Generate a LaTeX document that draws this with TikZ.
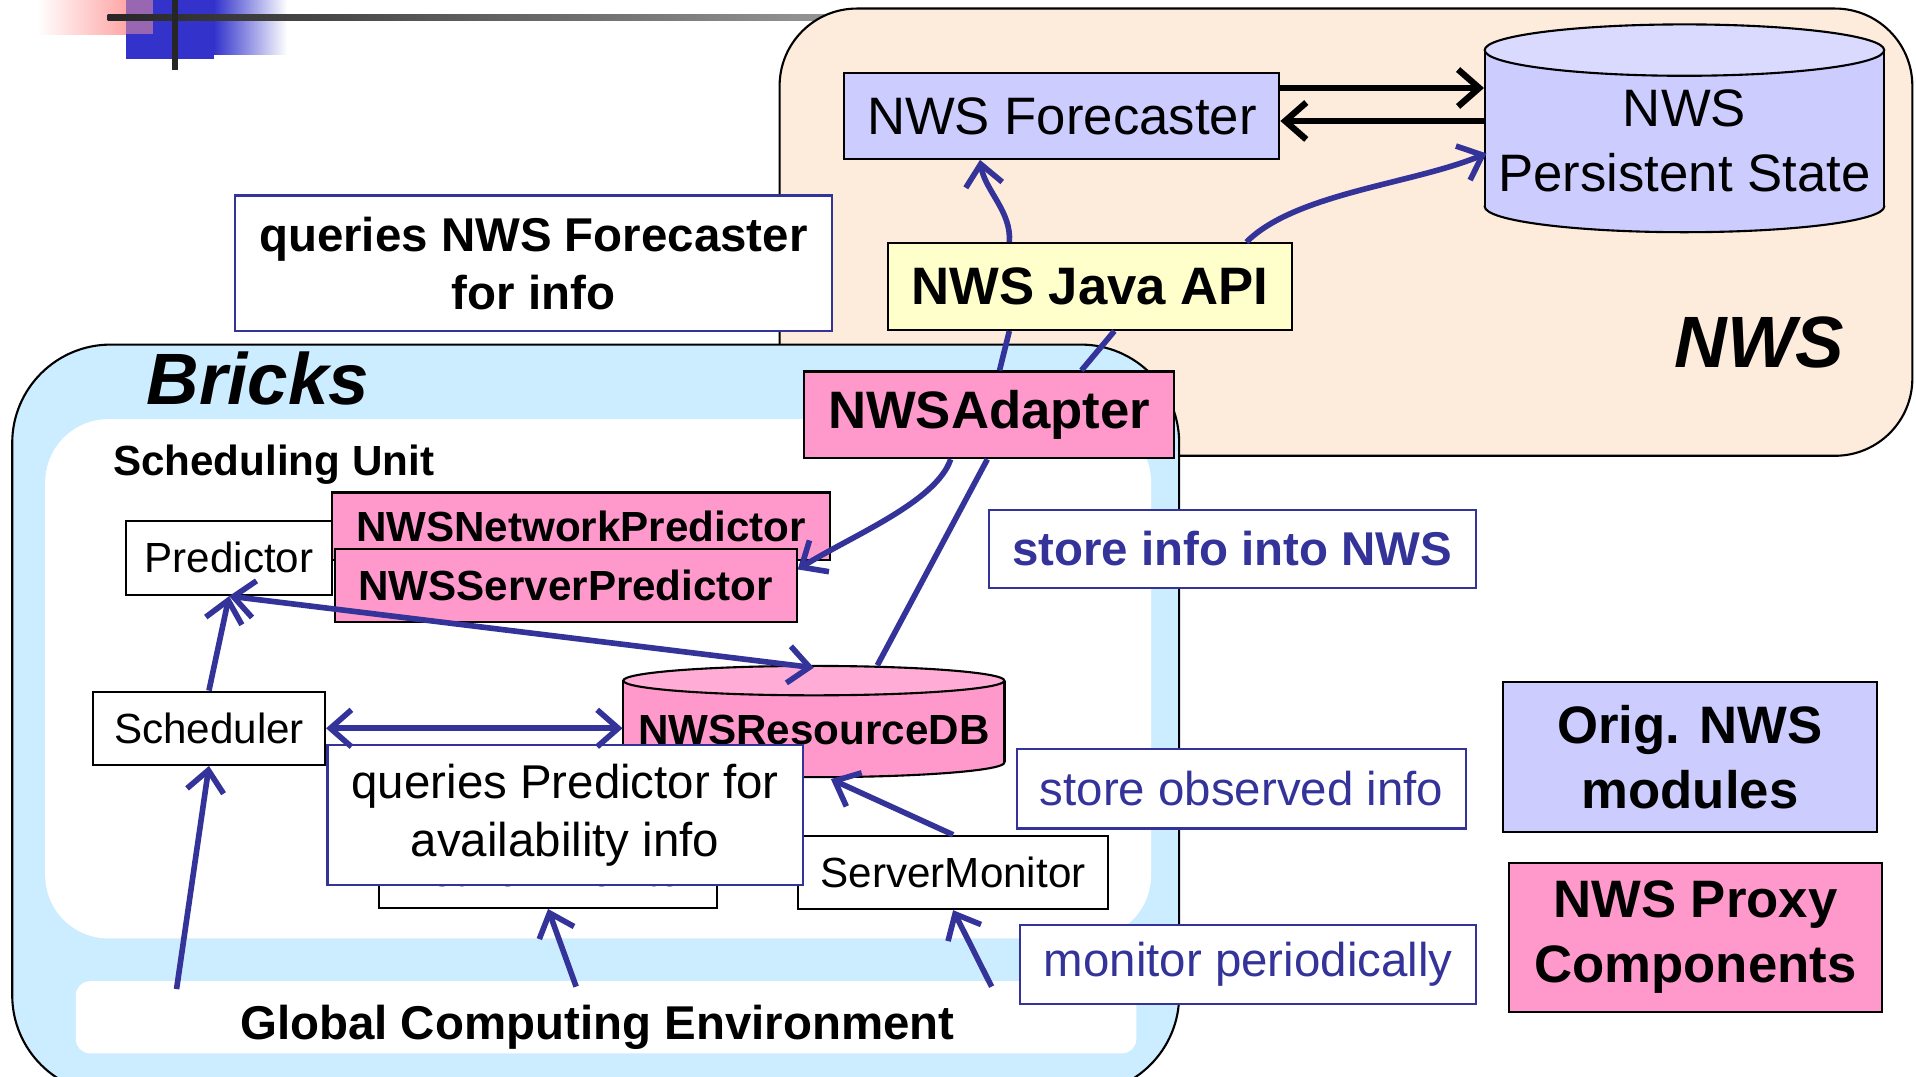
\documentclass[tikz,border=0pt]{standalone}
\usepackage{fontspec}
\setmainfont{Liberation Sans}
\usetikzlibrary{arrows.meta,calc}
\definecolor{nwsbg}{HTML}{FDEBDB}
\definecolor{bricksbg}{HTML}{CCECFF}
\definecolor{orig}{HTML}{CCCCFF}
\definecolor{origtop}{HTML}{DADAFF}
\definecolor{proxy}{HTML}{FF99CC}
\definecolor{proxytop}{HTML}{FFADD6}
\definecolor{javabg}{HTML}{FFFFCC}
\definecolor{arrowblue}{HTML}{333399}
\definecolor{decoblue}{HTML}{3333CC}
\newcommand{\smallfnt}{\fontsize{12}{14}\selectfont}
\newcommand{\midfnt}{\fontsize{13.5}{16.5}\selectfont}
\newcommand{\bigfnt}{\fontsize{15}{18.4}\selectfont}
\newcommand{\hugefnt}{\fontsize{20.7}{24}\selectfont}

\begin{document}
\begin{tikzpicture}[x=0.01222cm, y=-0.01222cm, >={Straight Barb[length=6pt,width=10.5pt]}]
\tikzstyle{box}=[draw, line width=0.6pt, fill=white, inner sep=0pt, font=\smallfnt]
\tikzstyle{proxybox}=[box, fill=proxy, font=\smallfnt\bfseries]
\tikzstyle{note}=[draw=arrowblue, line width=0.6pt, fill=white, inner sep=0pt, align=center, font=\midfnt]
\tikzstyle{flow}=[draw=arrowblue, line width=1.6pt]
\tikzstyle{blk}=[draw=black, line width=1.8pt]
\useasboundingbox (0,0) rectangle (1568,881);
\clip (0,0) rectangle (1568,881);

% slide decoration
\shade[left color=white, right color=red!45] (30,0) rectangle (125,28);
\fill[decoblue] (103,0) rectangle (175,48);
\shade[left color=decoblue, right color=white] (175,0) rectangle (235,45);
\fill[red!40, opacity=0.5] (103,0) rectangle (125,28);
\shade[left color=black!85, right color=black!40] (88,11.5) rectangle (700,17);
\fill[black!85] (141,0) rectangle (145.5,57);

% NWS region
\draw[fill=nwsbg, line width=0.6pt, rounded corners=22pt] (638,7) rectangle (1565,373);
\node[font=\hugefnt\bfseries\itshape] (nwslbl) at (1440,280) {NWS};

% Bricks region
\draw[fill=bricksbg, line width=0.6pt, rounded corners=28pt] (10,282) rectangle (965,895);
\fill[white, rounded corners=18pt] (37,343) rectangle (942,768);
\node[font=\hugefnt\bfseries\itshape] (brickslbl) at (211,310) {Bricks};
\node[font=\smallfnt\bfseries, anchor=west, inner sep=0pt] (sulbl) at (92,380) {Scheduling Unit};
\node[fill=white, rounded corners=4pt, minimum width=10.607cm, minimum height=0.721cm, text height=12.8pt, text depth=0pt, font=\midfnt\bfseries] (gce) at (496,832.5) {Global Computing Environment\hspace*{5pt}};

% original NWS modules
\node[box, fill=orig, font=\bigfnt, minimum width=4.350cm, minimum height=0.855cm] (fcst) at (869,95) {NWS Forecaster};
\draw[fill=orig, line width=0.6pt] (1378.5,169) ellipse [x radius=1.998cm, y radius=0.257cm];
\fill[orig] (1215,41) rectangle (1542,169);
\draw[line width=0.6pt] (1215,41) -- (1215,169) (1542,41) -- (1542,169);
\draw[fill=origtop, line width=0.6pt] (1378.5,41) ellipse [x radius=1.998cm, y radius=0.257cm];
\node[font=\bigfnt, align=center, minimum width=3.996cm, minimum height=1.821cm, inner sep=0pt] (ps) at (1378.5,115.5) {NWS\\Persistent State};
\node[box, fill=javabg, font=\bigfnt\bfseries, minimum width=4.033cm, minimum height=0.868cm] (java) at (892,234.5) {NWS Java API};

% scheduling unit
\node[box, minimum width=2.065cm, minimum height=0.745cm] (pred) at (187.5,456.5) {Predictor};
\node[proxybox, minimum width=4.974cm, minimum height=0.672cm] (netp) at (475.5,430.5) {NWSNetworkPredictor};
\node[proxybox, minimum width=4.619cm, minimum height=0.733cm] (srvp) at (463,479) {NWSServerPredictor};
\node[box, minimum width=2.322cm, minimum height=0.733cm] (sch) at (171,596) {Scheduler};
\draw[fill=proxy, line width=0.6pt] (666,624) ellipse [x radius=1.906cm, y radius=0.147cm];
\fill[proxy] (510,557) rectangle (822,624);
\draw[line width=0.6pt] (510,557) -- (510,624) (822,557) -- (822,624);
\draw[fill=proxytop, line width=0.6pt] (666,557) ellipse [x radius=1.906cm, y radius=0.147cm];
\node[font=\smallfnt\bfseries, minimum width=3.813cm, minimum height=0.978cm, inner sep=0pt] (rdb) at (666,597) {NWSResourceDB};
\node[box, minimum width=3.385cm, minimum height=0.721cm] (nmon) at (448.5,713.5) {\raisebox{-2.4pt}{NetworkMonitor}};
\node[box, minimum width=3.104cm, minimum height=0.733cm] (smon) at (780,714) {ServerMonitor};
\node[note, minimum width=4.754cm, minimum height=1.393cm] (qpred) at (462.5,667) {queries Predictor for\\availability info};
\node[proxybox, font=\bigfnt\bfseries, minimum width=3.703cm, minimum height=0.868cm] (adp) at (809.5,339.5) {NWSAdapter};

% notes
\node[note, font=\midfnt\bfseries, minimum width=5.976cm, minimum height=1.356cm] (qfc) at (436.5,215.5) {queries NWS Forecaster\\for info};
\node[note, text=arrowblue, font=\midfnt\bfseries, minimum width=4.876cm, minimum height=0.782cm] (sinfo) at (1008.5,449) {store info into NWS};
\node[note, text=arrowblue, minimum width=4.497cm, minimum height=0.794cm] (sobs) at (1016,645.5) {store observed info};
\node[note, text=arrowblue, minimum width=4.558cm, minimum height=0.794cm] (mper) at (1021.5,789.5) {monitor periodically};

% legend
\node[box, fill=orig, font=\bigfnt\bfseries, align=center, minimum width=3.739cm, minimum height=1.503cm] (lorig) at (1383,619.5) {Orig. NWS\\modules};
\node[box, fill=proxy, font=\bigfnt\bfseries, align=center, minimum width=3.727cm, minimum height=1.491cm] (lproxy) at (1387.5,767) {NWS Proxy\\Components};

% connectors
\draw[blk,->] ($(fcst.east)+(0,-23)$) -- ($(ps.west)+(0,-43.5)$);
\draw[blk,->] ($(ps.west)+(0,-16.5)$) -- ($(fcst.east)+(0,4)$);
\draw[flow,->] ($(java.north)+(-66,0)$) .. controls +(2,-25) and +(4,25) .. ($(fcst.south)+(-67,0)$);
\draw[flow,->] ($(java.north)+(128,0)$) .. controls +(40,-40) and +(-60,25) .. ($(ps.west)+(2,10)$);
\draw[flow] ($(java.south)+(-66,0)$) -- ($(adp.north)+(8.5,0)$);
\draw[flow] ($(java.south)+(20,0)$) -- ($(adp.north)+(75.5,0)$);
\draw[flow,->] ($(adp.south)+(-31.5,0)$) .. controls +(-12,35) and +(45,-28) .. ($(srvp.east)+(0,-13)$);
\draw[flow] ($(adp.south)+(-1.5,0)$) -- ($(rdb.north)+(52,-12)$);
\draw[flow,<->] (pred.south) -- ($(rdb.north)+(0,-10)$);
\draw[flow,->] (sch.north) -- (pred.south);
\draw[flow,<->] (sch.east) -- (sch.east -| rdb.west);
\draw[flow,->] (smon.north) -- ($(rdb.south)+(14,0)$);
\draw[flow,->] ($(gce.north west)+(83,7)$) -- (sch.south);
\draw[flow,->] ($(gce.north west)+(410,5)$) -- (nmon.south);
\draw[flow,->] ($(gce.north west)+(750,5)$) -- (smon.south);
\end{tikzpicture}
\end{document}
